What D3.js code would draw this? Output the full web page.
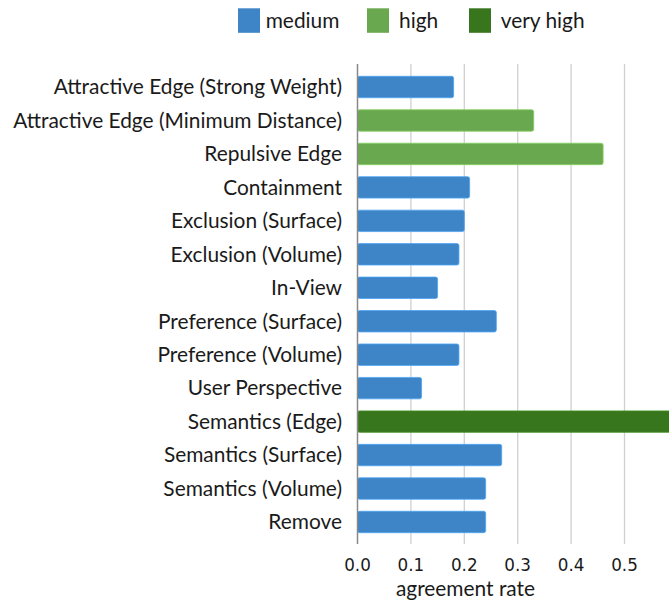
<!DOCTYPE html>
<html><head><meta charset="utf-8">
<script src="https://cdn.jsdelivr.net/npm/d3@7"></script>
<style>
body{margin:0;background:#fff;}
svg{display:block;}
</style></head>
<body><svg id="c" width="669" height="602"></svg>
<script>
const categories = [
  "Attractive Edge (Strong Weight)",
  "Attractive Edge (Minimum Distance)",
  "Repulsive Edge",
  "Containment",
  "Exclusion (Surface)",
  "Exclusion (Volume)",
  "In-View",
  "Preference (Surface)",
  "Preference (Volume)",
  "User Perspective",
  "Semantics (Edge)",
  "Semantics (Surface)",
  "Semantics (Volume)",
  "Remove"
];
const values = [0.18, 0.33, 0.46, 0.21, 0.20, 0.19, 0.15, 0.26, 0.19, 0.12, 0.62, 0.27, 0.24, 0.24];
const levels = ["medium","high","high","medium","medium","medium","medium","medium","medium","medium","very high","medium","medium","medium"];
const legendLabels = ["medium","high","very high"];
const legendColors = ["#3d85c6","#6aa84f","#38761d"];
const tickValues = [0, 0.1, 0.2, 0.3, 0.4, 0.5];
const axisTitle = "agreement rate";

const svg = d3.select("#c");
const labelFont = "Lato, 'Open Sans', sans-serif";
const x0 = 357.5, pxPer = 534;
const x = d3.scaleLinear().domain([0, 0.6]).range([x0, x0 + 0.6*pxPer]);
const y = d3.scaleBand().domain(categories).range([70.3, 538.7]).paddingInner(0.36).paddingOuter(0.18);
const color = d3.scaleOrdinal().domain(legendLabels).range(legendColors);
const plotTop = 64, plotBottom = 544;

// gridlines
svg.append("g").selectAll("line").data(tickValues.slice(1)).join("line")
  .attr("x1", d=>x(d)).attr("x2", d=>x(d)).attr("y1", plotTop).attr("y2", plotBottom)
  .attr("stroke", "#d0d0d0").attr("stroke-width", 1.3);

// bars
svg.append("g").selectAll("rect").data(categories).join("rect")
  .attr("x", x(0)).attr("y", d=>y(d))
  .attr("width", (d,i)=>x(values[i]) - x(0))
  .attr("height", y.bandwidth())
  .attr("rx", 2)
  .attr("fill", (d,i)=>color(levels[i]))
  .attr("stroke", (d,i)=>d3.color(color(levels[i])).brighter(0.6))
  .attr("stroke-width", 0.8);

// axis line
svg.append("line").attr("x1", x0).attr("x2", x0).attr("y1", plotTop).attr("y2", plotBottom)
  .attr("stroke", "#888").attr("stroke-width", 1.5);

// category labels
const lab = svg.append("g").selectAll("text").data(categories).join("text")
  .attr("x", 342).attr("y", d=>y(d)+y.bandwidth()/2)
  .attr("dy", "0.35em").attr("text-anchor", "end")
  .attr("font-family", labelFont).attr("font-size", 18).attr("fill", "#1a1a1a")
  .text(d=>d);
// fit longest label width to 329px
let maxW = 0; lab.each(function(){ maxW = Math.max(maxW, this.getComputedTextLength()); });
const fs = 18 * 329 / maxW;
lab.attr("font-size", fs);

// tick labels
svg.append("g").selectAll("text").data(tickValues).join("text")
  .attr("x", d=>x(d)).attr("y", 565).attr("dy", "0.35em").attr("text-anchor", "middle")
  .attr("font-family", "'DejaVu Sans', sans-serif").attr("font-size", 16.8).attr("fill", "#1a1a1a")
  .text(d=>d3.format(".1f")(d));

svg.append("text").attr("x", 465.5).attr("y", 589).attr("dy", "0.35em").attr("text-anchor", "middle")
  .attr("font-family", labelFont).attr("font-size", fs).attr("fill", "#1a1a1a").text(axisTitle);

// legend
const legX = [238, 367, 469];
const legTX = [265.7, 399, 500.7];
const lg = svg.append("g");
legendLabels.forEach((l,i)=>{
  lg.append("rect").attr("x", legX[i]).attr("y", 8.3).attr("width", 22).attr("height", 24.5).attr("fill", legendColors[i]);
  lg.append("text").attr("x", legTX[i]).attr("y", 20.5).attr("dy", "0.35em")
    .attr("font-family", labelFont).attr("font-size", fs).attr("fill", "#1a1a1a").text(l);
});
</script></body></html>
